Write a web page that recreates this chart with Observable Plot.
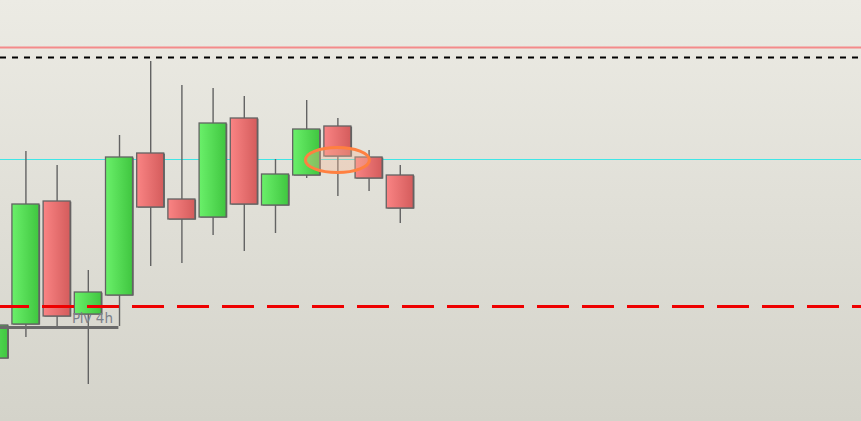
<!DOCTYPE html>
<html>
<head>
<meta charset="utf-8">
<script src="https://cdn.jsdelivr.net/npm/d3@7"></script>
<script src="https://cdn.jsdelivr.net/npm/@observablehq/plot@0.6"></script>
<style>
  html, body { margin: 0; padding: 0; background: #e3e2da; }
  #chart svg { display: block; }
</style>
</head>
<body>
<div id="chart"></div>
<script>
// Candle data (bar index and OHLC prices)
const idx   = [0, 1, 2, 3, 4, 5, 6, 7, 8, 9, 10, 11, 12, 13];
const open  = [1.3063, 1.3097, 1.3220, 1.3107, 1.3126, 1.3268, 1.3222, 1.3204, 1.3303, 1.3216, 1.3246, 1.3295, 1.3264, 1.3246];
const high  = [1.3096, 1.3270, 1.3256, 1.3151, 1.3286, 1.3360, 1.3336, 1.3333, 1.3325, 1.3262, 1.3321, 1.3303, 1.3271, 1.3256];
const low   = [1.3063, 1.3084, 1.3095, 1.3037, 1.3095, 1.3155, 1.3158, 1.3186, 1.3170, 1.3188, 1.3243, 1.3225, 1.3230, 1.3198];
const close = [1.3096, 1.3217, 1.3105, 1.3129, 1.3264, 1.3214, 1.3202, 1.3298, 1.3217, 1.3247, 1.3292, 1.3265, 1.3243, 1.3213];

// Horizontal levels
const levelRedThin   = 1.3374;
const levelBlackDash = 1.3364;
const levelCyan      = 1.3262;
const levelRedDash   = 1.3115;
const pivot4h        = 1.3094;
const pivotLabel     = "Piv 4h";
const pivotEndIndex  = 3.98;
const labelIndex     = 2.475;
const labelPrice     = 1.3099;

// Highlight ellipse (centre index / price)
const ellipseIndex = 11;
const ellipsePrice = 1.3261;

const candles = idx.map((i, k) => ({
  i, open: open[k], high: high[k], low: low[k], close: close[k],
  up: close[k] >= open[k]
}));

const half = 0.433;

const defs = () => {
  const g = d3.create("svg:g");
  const d = g.append("defs");
  const gg = d.append("linearGradient").attr("id", "gGreen").attr("x1", 0).attr("x2", 1).attr("y1", 0).attr("y2", 0);
  gg.append("stop").attr("offset", "0%").attr("stop-color", "#6af06a");
  gg.append("stop").attr("offset", "100%").attr("stop-color", "#40c640");
  const gr = d.append("linearGradient").attr("id", "gRed").attr("x1", 0).attr("x2", 1).attr("y1", 0).attr("y2", 0);
  gr.append("stop").attr("offset", "0%").attr("stop-color", "#fa8484");
  gr.append("stop").attr("offset", "100%").attr("stop-color", "#d45c5c");
  return g.node();
};

const ellipseMark = (index, scales) => {
  const g = d3.create("svg:g");
  const cx = scales.x(ellipseIndex), cy = scales.y(ellipsePrice);
  g.append("ellipse")
    .attr("cx", cx).attr("cy", cy).attr("rx", 32).attr("ry", 12.5)
    .attr("fill", "#f6b896").attr("fill-opacity", 0.35)
    .attr("stroke", "#ff8040").attr("stroke-width", 3);
  return g.node();
};

const chart = Plot.plot({
  width: 861,
  height: 421,
  margin: 0,
  x: { type: "linear", domain: [0.185, 27.785], axis: null },
  y: { type: "linear", domain: [1.3000, 1.3421], axis: null },
  style: { background: "linear-gradient(to bottom, #ecebe4 0%, #d4d3ca 100%)", overflow: "hidden" },
  marks: [
    defs,
    Plot.ruleY([levelRedThin], { stroke: "#f48a8a", strokeWidth: 2 }),
    Plot.ruleY([levelBlackDash], { stroke: "#000", strokeWidth: 2, strokeDasharray: "6,6" }),
    Plot.ruleY([levelCyan], { stroke: "#3fe6e6", strokeWidth: 1 }),
    Plot.ruleX(candles, { x: "i", y1: "low", y2: "high", stroke: "#636363", strokeWidth: 1.4 }),
    Plot.rect(candles, {
      x1: d => d.i - half, x2: d => d.i + half,
      y1: d => Math.min(d.open, d.close), y2: d => Math.max(d.open, d.close),
      fill: "#636363", dx: 1.2, dy: 0.6
    }),
    Plot.rect(candles, {
      x1: d => d.i - half, x2: d => d.i + half,
      y1: d => Math.min(d.open, d.close), y2: d => Math.max(d.open, d.close),
      fill: d => d.up ? "url(#gGreen)" : "url(#gRed)",
      stroke: "#636363", strokeWidth: 1.3
    }),
    Plot.ruleY([pivot4h], { x1: -1, x2: pivotEndIndex, stroke: "#6a6a6a", strokeWidth: 3 }),
    Plot.text([pivotLabel], {
      x: labelIndex, y: labelPrice, text: d => d,
      textAnchor: "start", lineAnchor: "bottom",
      fill: "#7c808a", fontSize: 13.5, fontFamily: "DejaVu Sans"
    }),
    Plot.ruleY([levelRedDash], { stroke: "#ee0000", strokeWidth: 3, strokeDasharray: "32,13", strokeDashoffset: 3 }),
    ellipseMark
  ]
});

document.getElementById("chart").appendChild(chart);
</script>
</body>
</html>
